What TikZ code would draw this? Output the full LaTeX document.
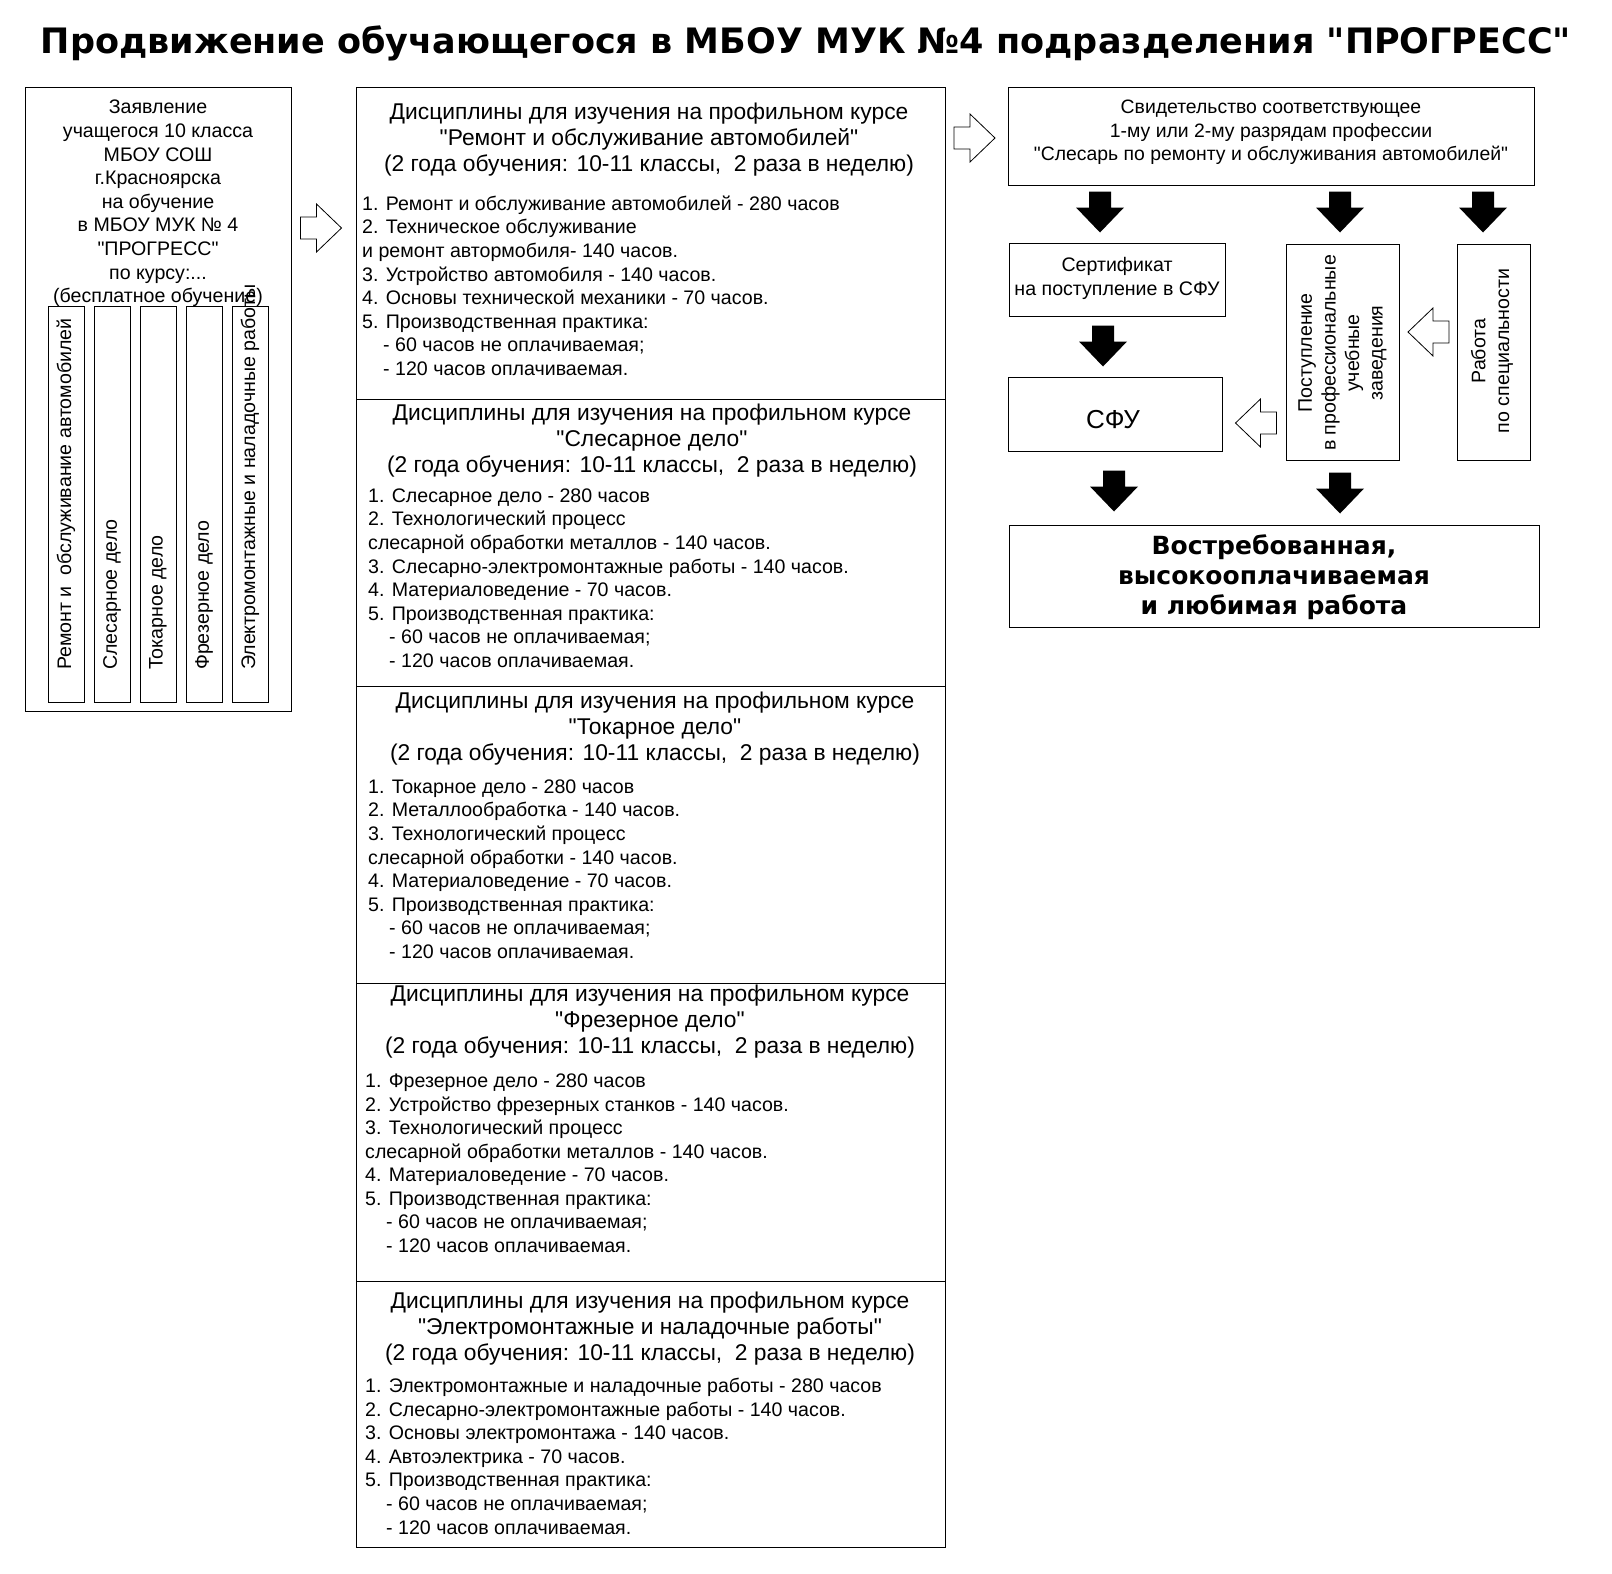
\documentclass[tikz,border=0pt]{standalone}
\usepackage{fontspec}
\setmainfont{Liberation Sans}[Ligatures=TeXOff]
\newfontfamily\titlefont{DejaVu Sans}[Ligatures=TeXOff]
\usetikzlibrary{fit}

\tikzset{
  box/.style={draw, line width=1pt, inner sep=0pt},
  txt/.style={inner sep=0pt, font=\fontsize{19.6}{23.6}\selectfont},
  headtxt/.style={inner sep=0pt, align=center, font=\fontsize{22.8}{26}\selectfont},
  listtxt/.style={txt, align=left, anchor=north west},
  blackarrow/.style={fill=black},
  hollowarrow/.style={draw, fill=white, line width=0.8pt},
  blockarrow/.pic={
    \path[pic actions] (-20.5,-11) -- (-4.5,-11) -- (-4.5,-24) -- (20.5,0)
      -- (-4.5,24) -- (-4.5,11) -- (-20.5,11) -- cycle;
  },
}
\newcommand{\sub}{\hspace*{21pt}}

\begin{document}
\begin{tikzpicture}[x=1pt, y=-1pt]
    \useasboundingbox[fill=white] (0,0) rectangle (1612,1574);

    % Title
    \node[inner sep=0pt, font=\titlefont\bfseries\fontsize{35}{40}\selectfont] (title) at (806,43)
      {Продвижение обучающегося в МБОУ МУК №4 подразделения "ПРОГРЕСС"};

    % Application
    \node[box, fit={(25,87) (291,711)}] (appl) {};
    \node[txt, align=center, anchor=north] (applText) at (158,100)
      {Заявление\\учащегося 10 класса\\МБОУ СОШ\\г.Красноярска\\на обучение\\в МБОУ МУК № 4\\"ПРОГРЕСС"\\по курсу:...\\(бесплатное обучение)};

    % Courses
    \foreach \x/\course [count=\i] in {66/{Ремонт и~ обслуживание автомобилей}, 112/{Слесарное дело},
        158/{Токарное дело}, 204/{Фрезерное дело}, 250/{Электромонтажные и наладочные работы}} {
      \node[box, fit={(\x-18,306) (\x+18,702)}] (course\i) {};
      \node[txt, rotate=90, anchor=west] (courseText\i) at (\x,670) {\course};
    }

    \pic[hollowarrow] at (321,228) {blockarrow};

    % Disciplines: auto
    \node[box, fit={(356,87) (945,399)}] (disc1) {};
    \node[headtxt, anchor=north] (discHead1) at (649,103)
      {Дисциплины для изучения на профильном курсе\\"Ремонт и обслуживание автомобилей"\\(2 года обучения: 10-11 классы,~ 2 раза в неделю)};
    \node[listtxt] (discList1) at (362,195.5)
      {1. Ремонт и обслуживание автомобилей - 280 часов\\2. Техническое обслуживание\\и ремонт автормобиля- 140 часов.\\3. Устройство автомобиля - 140 часов.\\4. Основы технической механики - 70 часов.\\5. Производственная практика:\\\sub- 60 часов не оплачиваемая;\\\sub- 120 часов оплачиваемая.};

    % Disciplines: locksmith
    \node[box, fit={(356,399) (945,686)}] (disc2) {};
    \node[headtxt, anchor=north] (discHead2) at (652,404)
      {Дисциплины для изучения на профильном курсе\\"Слесарное дело"\\(2 года обучения: 10-11 классы,~ 2 раза в неделю)};
    \node[listtxt] (discList2) at (368,488.5)
      {1. Слесарное дело - 280 часов\\2. Технологический процесс\\слесарной обработки металлов - 140 часов.\\3. Слесарно-электромонтажные работы - 140 часов.\\4. Материаловедение - 70 часов.\\5. Производственная практика:\\\sub- 60 часов не оплачиваемая;\\\sub- 120 часов оплачиваемая.};

    % Disciplines: turning
    \node[box, fit={(356,686) (945,983)}] (disc3) {};
    \node[headtxt, anchor=north] (discHead3) at (655,692)
      {Дисциплины для изучения на профильном курсе\\"Токарное дело"\\(2 года обучения: 10-11 классы,~ 2 раза в неделю)};
    \node[listtxt] (discList3) at (368,779.5)
      {1. Токарное дело - 280 часов\\2. Металлообработка - 140 часов.\\3. Технологический процесс\\слесарной обработки - 140 часов.\\4. Материаловедение - 70 часов.\\5. Производственная практика:\\\sub- 60 часов не оплачиваемая;\\\sub- 120 часов оплачиваемая.};

    % Disciplines: milling
    \node[box, fit={(356,983) (945,1281)}] (disc4) {};
    \node[headtxt, anchor=north] (discHead4) at (650,985)
      {Дисциплины для изучения на профильном курсе\\"Фрезерное дело"\\(2 года обучения: 10-11 классы,~ 2 раза в неделю)};
    \node[listtxt] (discList4) at (365,1073.5)
      {1. Фрезерное дело - 280 часов\\2. Устройство фрезерных станков - 140 часов.\\3. Технологический процесс\\слесарной обработки металлов - 140 часов.\\4. Материаловедение - 70 часов.\\5. Производственная практика:\\\sub- 60 часов не оплачиваемая;\\\sub- 120 часов оплачиваемая.};

    % Disciplines: electrical
    \node[box, fit={(356,1281) (945,1547)}] (disc5) {};
    \node[headtxt, anchor=north] (discHead5) at (650,1292)
      {Дисциплины для изучения на профильном курсе\\"Электромонтажные и наладочные работы"\\(2 года обучения: 10-11 классы,~ 2 раза в неделю)};
    \node[listtxt] (discList5) at (365,1378)
      {1. Электромонтажные и наладочные работы - 280 часов\\2. Слесарно-электромонтажные работы - 140 часов.\\3. Основы электромонтажа - 140 часов.\\4. Автоэлектрика - 70 часов.\\5. Производственная практика:\\\sub- 60 часов не оплачиваемая;\\\sub- 120 часов оплачиваемая.};

    \pic[hollowarrow] at (974.5,138) {blockarrow};

    % Certificate of qualification
    \node[box, fit={(1008,87) (1534,185)}] (svid) {};
    \node[txt, align=center, anchor=north, font=\fontsize{19.4}{23.6}\selectfont] (svidText) at (1271,100)
      {Свидетельство соответствующее\\1-му или 2-му разрядам профессии\\"Слесарь по ремонту и обслуживания автомобилей"};

    \pic[blackarrow, rotate=-90] at (1100,212) {blockarrow};
    \pic[blackarrow, rotate=-90] at (1340,212) {blockarrow};
    \pic[blackarrow, rotate=-90] at (1483,212) {blockarrow};

    % Next steps
    \node[box, fit={(1009.5,243) (1225,316)}] (sert) {};
    \node[txt, align=center, anchor=north] (sertText) at (1117,257)
      {Сертификат\\на поступление в СФУ};

    \node[box, fit={(1286,244) (1399,460)}] (postup) {};
    \node[txt, align=center, rotate=90] (postupText) at (1342.5,353)
      {Поступление\\в профессиональные\\учебные\\заведения};

    \node[box, fit={(1457,244) (1530,460)}] (rabota) {};
    \node[txt, align=center, rotate=90] (rabotaText) at (1492,351)
      {Работа\\по специальности};

    \pic[hollowarrow, rotate=180] at (1428.5,332) {blockarrow};
    \pic[blackarrow, rotate=-90] at (1103,346) {blockarrow};

    \node[box, fit={(1008.5,377) (1222,451)}] (sfu) {};
    \node[inner sep=0pt, font=\fontsize{26}{30}\selectfont] (sfuText) at (1113,420) {СФУ};

    \pic[hollowarrow, rotate=180] at (1256,423) {blockarrow};
    \pic[blackarrow, rotate=-90] at (1114,491) {blockarrow};
    \pic[blackarrow, rotate=-90] at (1340,493) {blockarrow};

    % Result
    \node[box, fit={(1009.5,525) (1539,627)}] (result) {};
    \node[inner sep=0pt, align=center, font=\titlefont\bfseries\fontsize{25}{29.7}\selectfont] (resultText) at (1274,577)
      {Востребованная,\\высокооплачиваемая\\и любимая работа};
\end{tikzpicture}
\end{document}
